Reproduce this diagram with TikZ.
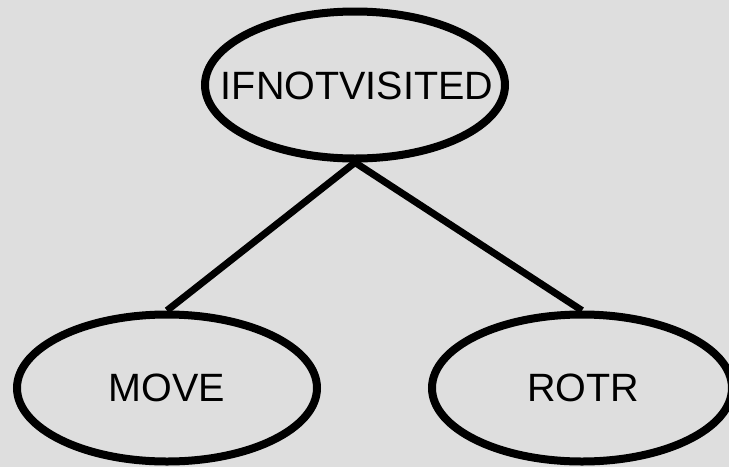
\documentclass[tikz,border=0pt]{standalone}
\usepackage{fontspec}
\setmainfont{Liberation Sans}
\usetikzlibrary{shapes.geometric}
\definecolor{bg}{HTML}{DEDEDE}
\tikzset{
  oval/.style={ellipse, draw=black, line width=8pt, inner sep=0pt, minimum width=300pt, minimum height=147pt},
  lbl/.style={inner sep=0pt, font=\fontsize{39.5}{40}\selectfont, text=black},
  edge/.style={draw=black, line width=7pt}
}
\begin{document}
\begin{tikzpicture}[x=1pt,y=-1pt]
\fill[bg] (0,0) rectangle (729,467);
\useasboundingbox (0,0) rectangle (729,467);
\node[oval] (top) at (355,85) {};
\node[oval] (left) at (167,388) {};
\node[oval] (right) at (582,388) {};
\node[lbl] (toplbl) at (357,86) {IFNOTVISITED};
\node[lbl] (leftlbl) at (167,388) {MOVE};
\node[lbl] (rightlbl) at (583,388) {ROTR};
\draw[edge] (top.south) -- (left.north);
\draw[edge] (top.south) -- (right.north);
\end{tikzpicture}
\end{document}
